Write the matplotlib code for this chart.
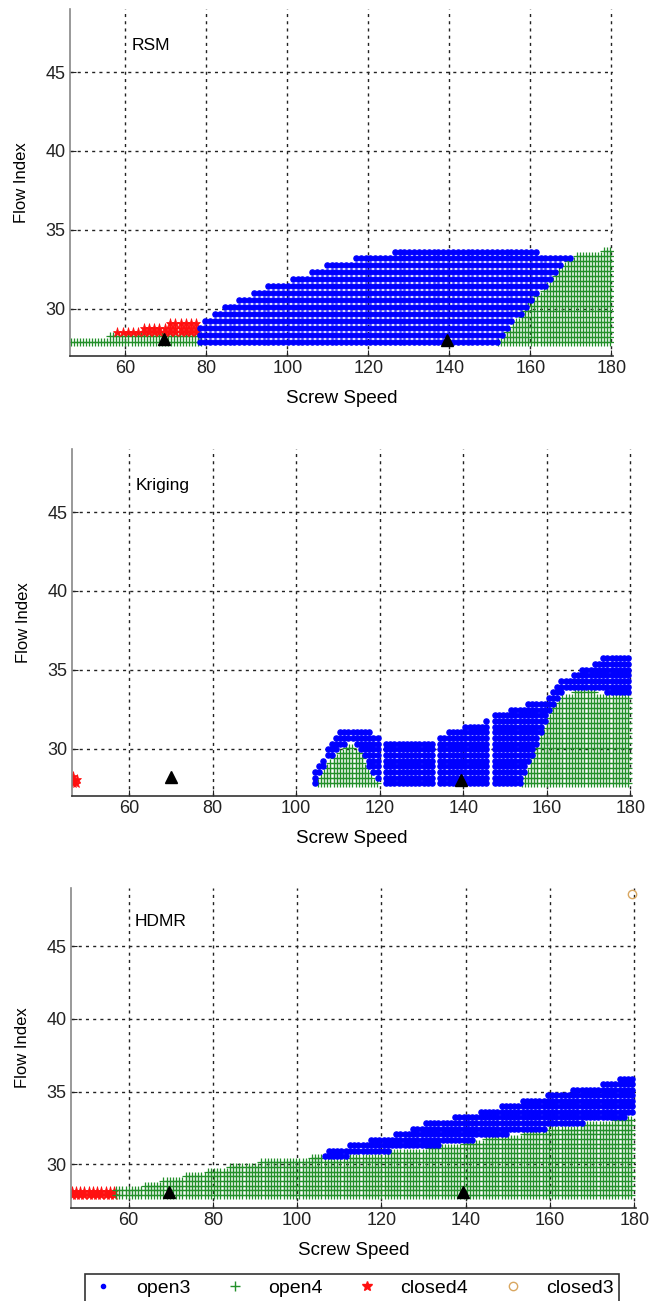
import numpy as np
import matplotlib.pyplot as plt
from matplotlib.lines import Line2D

plt.rcParams['font.family'] = ['Liberation Sans', 'DejaVu Sans']

# ---------------- data ----------------
# region outlines (x, y) for each class, per panel
# RSM
rsm_green_left_x = [46.5, 79.0]
rsm_green_left_top_x = [46.5, 54.0, 56.0, 79.0]
rsm_green_left_top_y = [28.0, 28.0, 28.3, 28.4]
rsm_red_x = [58.0, 78.5]
rsm_red_top_x = [58.0, 62.0, 66.0, 70.0, 78.5]
rsm_red_top_y = [28.6, 28.7, 28.9, 29.1, 29.1]
rsm_blue_x = [78.5, 170.0]
rsm_blue_lo_x = [78.5, 152.0, 170.0]
rsm_blue_lo_y = [27.9, 27.9, 33.2]
rsm_blue_top_x = [78.5, 82, 86, 90, 95, 100, 105, 110, 115, 120, 125, 130, 140, 150, 157, 162, 166, 170]
rsm_blue_top_y = [29.0, 29.8, 30.4, 30.9, 31.4, 31.8, 32.3, 32.8, 33.1, 33.4, 33.6, 33.8, 33.9, 33.9, 33.8, 33.6, 33.3, 33.2]
rsm_green_right_x = [152.0, 180.0]
rsm_green_right_top_x = [152.0, 170.0, 175.0, 180.0]
rsm_green_right_top_y = [27.9, 33.3, 33.5, 33.8]

# Kriging
krg_red_x = [46.6, 46.9, 46.6, 47.2, 47.4]
krg_red_y = [28.25, 28.0, 27.8, 27.85, 28.1]
krg_blue_x = [104.5, 179.6]
krg_blue_top_x = [104.4, 106.0, 107.6, 109.2, 110.8, 112.8, 114.8, 117.2, 119.2, 120.4, 121.2, 122.8,
                  133.2, 134.0, 135.6, 138.0, 140.0, 143.6, 145.6, 146.8, 150.0, 153.2, 158.0, 159.6,
                  161.2, 162.8, 166.0, 167.6, 170.8, 173.2, 175.6, 179.6]
krg_blue_top_y = [28.5, 29.3, 30.1, 30.8, 31.3, 31.4, 31.2, 31.1, 30.9, 30.7, 30.6, 30.4,
                  30.4, 30.7, 31.0, 31.2, 31.4, 31.7, 31.8, 32.3, 32.4, 32.8, 32.9, 33.2,
                  33.8, 34.2, 34.6, 35.0, 35.3, 35.7, 35.9, 36.0]
krg_blue_gaps = [(120.0, 120.8), (133.1, 133.9), (145.9, 146.6)]
krg_green_hump_x = [105.2, 119.6]
krg_green_hump_top_x = [105.2, 107.6, 110.8, 112.8, 114.8, 116.4, 118.0, 119.6]
krg_green_hump_top_y = [28.1, 29.1, 29.9, 30.25, 29.9, 29.1, 28.2, 27.8]
krg_green_right_x = [154.0, 179.6]
krg_green_right_top_x = [154.0, 156.4, 158.8, 161.2, 163.6, 166.0, 168.4, 170.8, 173.2, 175.6, 179.6]
krg_green_right_top_y = [27.8, 29.3, 31.0, 32.5, 33.3, 33.5, 33.7, 33.6, 33.4, 33.3, 33.3]

# HDMR
hdmr_red_x = [46.5, 56.5]
hdmr_red_top = 28.3
hdmr_green_x = [57.0, 179.5]
hdmr_green_top_x = [57.0, 62.0, 65.0, 70.0, 75.0, 80.0, 85.0, 90.0, 95.0, 100.0, 105.0, 107.6,
                    115.5, 123.4, 131.2, 139.1, 147.0, 154.9, 162.8, 170.6, 179.5]
hdmr_green_top_y = [28.3, 28.4, 28.7, 29.0, 29.3, 29.6, 29.9, 30.1, 30.3, 30.4, 30.5, 30.4,
                    30.5, 30.9, 31.1, 31.4, 31.9, 32.1, 32.6, 32.8, 33.2]
hdmr_blue_x = [105.5, 179.5]
hdmr_blue_top_x = [105.5, 107.6, 115.5, 123.4, 131.2, 139.1, 147.0, 154.9, 162.8, 170.6, 178.5, 179.5]
hdmr_blue_top_y = [30.8, 31.0, 31.6, 32.1, 33.0, 33.3, 33.9, 34.5, 35.0, 35.4, 36.1, 36.1]
hdmr_closed3 = (179.5, 48.6)

# black triangles (design points)
tri_x = [[69.5, 139.5], [70.0, 139.5], [69.5, 139.3]]
tri_y = [[28.05, 28.0], [28.2, 28.0], [28.1, 28.1]]

panel_names = ['RSM', 'Kriging', 'HDMR']
x_ticks = [60, 80, 100, 120, 140, 160, 180]
y_ticks = [30, 35, 40, 45]

BLUE = '#0000ff'
GREEN = '#23902a'
RED = '#ff1010'
TAN = '#d9a760'

blue_style = dict(marker='o', ms=3.7, color=BLUE, mec=BLUE, ls='none')
green_style = dict(marker='+', ms=5.5, mew=0.9, color=GREEN, ls='none')
red_style = dict(marker='*', ms=6.5, color=RED, mec=RED, mew=0.5, ls='none')


def fill_region(ax, xr, dx, lo, hi, dy, base=27.9, skip=(), **style):
    # sample a regular grid inside lo(x) <= y <= hi(x)
    px, py = [], []
    for x in np.arange(xr[0], xr[1] + 1e-6, dx):
        if any(a <= x <= b for a, b in skip):
            continue
        ylo = lo(x)
        yhi = hi(x)
        ys = np.arange(base, yhi + 1e-6, dy)
        ys = ys[ys >= ylo - 1e-6]
        px += [x] * len(ys)
        py += list(ys)
    ax.plot(px, py, **style)


def style_axes(ax, name):
    ax.set_xlim(46.3, 180.4)
    ax.set_ylim(27.0, 49.0)
    ax.set_xticks(x_ticks)
    ax.set_yticks(y_ticks)
    ax.grid(True, color='#222222', linestyle=(0, (2.2, 3.0)), linewidth=1.0)
    ax.set_axisbelow(True)
    for s in ['top', 'right']:
        ax.spines[s].set_visible(False)
    ax.spines['left'].set_color('#888888')
    ax.spines['bottom'].set_color('#333333')
    ax.spines['left'].set_linewidth(1.2)
    ax.spines['bottom'].set_linewidth(1.2)
    ax.tick_params(direction='in', length=4, labelsize=13, colors='#222222', pad=3)
    ax.set_xlabel('Screw Speed', fontsize=13.5, labelpad=9)
    ax.set_ylabel('Flow Index', fontsize=12, labelpad=12)
    ax.text(61.5, 46.7, name, fontsize=12.5, va='center', ha='left')


fig = plt.figure(figsize=(6.64, 13.01), dpi=100)
ax1 = fig.add_axes([0.1054, 0.7264, 0.8178, 0.2667])
ax2 = fig.add_axes([0.1084, 0.3882, 0.8434, 0.2667])
ax3 = fig.add_axes([0.1069, 0.0715, 0.8509, 0.2460])

# ---- RSM ----
fill_region(ax1, rsm_green_left_x, 0.75, lambda x: 27.9,
            lambda x: np.interp(x, rsm_green_left_top_x, rsm_green_left_top_y), 0.35, **green_style)
fill_region(ax1, rsm_red_x, 1.3, lambda x: 28.5,
            lambda x: np.interp(x, rsm_red_top_x, rsm_red_top_y), 0.3, base=28.5, **red_style)
fill_region(ax1, rsm_green_right_x, 0.75, lambda x: 27.9,
            lambda x: np.interp(x, rsm_green_right_top_x, rsm_green_right_top_y), 0.32, **green_style)
fill_region(ax1, rsm_blue_x, 1.2, lambda x: np.interp(x, rsm_blue_lo_x, rsm_blue_lo_y),
            lambda x: np.interp(x, rsm_blue_top_x, rsm_blue_top_y), 0.44, **blue_style)

# ---- Kriging ----
def krg_green_top(x):
    if krg_green_hump_x[0] <= x <= krg_green_hump_x[1]:
        return np.interp(x, krg_green_hump_top_x, krg_green_hump_top_y)
    if x >= krg_green_right_x[0]:
        return np.interp(x, krg_green_right_top_x, krg_green_right_top_y)
    return 27.5

fill_region(ax2, krg_green_hump_x, 0.75, lambda x: 27.8,
            lambda x: np.interp(x, krg_green_hump_top_x, krg_green_hump_top_y), 0.32, base=27.8, **green_style)
fill_region(ax2, krg_green_right_x, 0.75, lambda x: 27.8,
            lambda x: np.interp(x, krg_green_right_top_x, krg_green_right_top_y), 0.32, base=27.8, **green_style)
fill_region(ax2, krg_blue_x, 1.0, lambda x: krg_green_top(x) + 0.2,
            lambda x: np.interp(x, krg_blue_top_x, krg_blue_top_y), 0.36, base=27.8,
            skip=krg_blue_gaps, **blue_style)
ax2.plot(krg_red_x, krg_red_y, **red_style)

# ---- HDMR ----
fill_region(ax3, hdmr_red_x, 1.0, lambda x: 27.9, lambda x: hdmr_red_top, 0.3, **red_style)
fill_region(ax3, hdmr_green_x, 0.75, lambda x: 27.9,
            lambda x: np.interp(x, hdmr_green_top_x, hdmr_green_top_y), 0.32, **green_style)
fill_region(ax3, hdmr_blue_x, 1.0, lambda x: np.interp(x, hdmr_green_top_x, hdmr_green_top_y) + 0.1,
            lambda x: np.interp(x, hdmr_blue_top_x, hdmr_blue_top_y), 0.38, base=27.9, **blue_style)
ax3.plot([hdmr_closed3[0]], [hdmr_closed3[1]], marker='o', ms=6, mfc='none', mec=TAN, ls='none',
         clip_on=False)

for ax, name, tx, ty in zip([ax1, ax2, ax3], panel_names, tri_x, tri_y):
    ax.plot(tx, ty, marker='^', ms=8, color='black', ls='none', zorder=5)
    style_axes(ax, name)

handles = [
    Line2D([], [], marker='.', ms=6, color=BLUE, ls='none'),
    Line2D([], [], marker='+', ms=7, mew=1.0, color=GREEN, ls='none'),
    Line2D([], [], marker='*', ms=7, color=RED, ls='none'),
    Line2D([], [], marker='o', ms=6, mfc='none', mec=TAN, ls='none'),
]
leg = fig.legend(handles, ['open3', 'open4', 'closed4', 'closed3'], ncol=4,
                 loc='lower right', bbox_to_anchor=(0.947, -0.009), fontsize=14,
                 frameon=True, fancybox=False, edgecolor='black', handlelength=1.2,
                 handletextpad=1.1, columnspacing=1.7, borderpad=0.3)
leg.get_frame().set_linewidth(1.2)

fig.savefig('out.png', dpi=100)
